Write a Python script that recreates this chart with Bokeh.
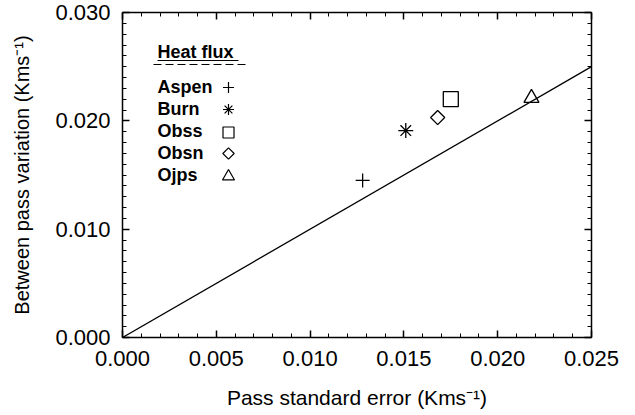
from bokeh.plotting import figure
from bokeh.models import (LinearAxis, SingleIntervalTicker, Range1d, ColumnDataSource,
                          NumeralTickFormatter, CustomJSTickFormatter)
from bokeh.core.properties import value
from bokeh.embed import file_html
from bokeh.resources import INLINE
import math

# ---- data ----
sites = ["Aspen", "Burn", "Obss", "Obsn", "Ojps"]
pass_standard_error = [0.0128, 0.0151, 0.0175, 0.0168, 0.0218]
between_pass_variation = [0.0145, 0.0191, 0.0220, 0.0203, 0.0221]
markers = ["cross", "asterisk", "square", "square", "triangle"]
marker_angles = [0, 0, 0, math.pi / 4, 0]
one_to_one_x = [0.0, 0.025]
one_to_one_y = [0.0, 0.025]
x_ticks_interval = 0.005
y_ticks_interval = 0.010
legend_title = "Heat flux"

# ---- layout ----
FONT = "Liberation Sans"
W, H = 635, 415
ML, MT = 122, 12
FW, FH = 469, 325
MR = W - ML - FW
MB = H - MT - FH
X0, X1 = 0.0, 0.025
Y0, Y1 = 0.0, 0.030

def px_x(px):
    return X0 + (px - ML) / FW * (X1 - X0)

def px_y(py):
    return Y0 + (MT + FH - py) / FH * (Y1 - Y0)

p = figure(frame_width=FW, frame_height=FH, output_backend="svg", toolbar_location=None,
           x_range=Range1d(X0, X1), y_range=Range1d(Y0, Y1),
           min_border_left=ML, min_border_top=MT, min_border_right=MR, min_border_bottom=MB,
           x_axis_label="Pass standard error (Kms\u207b\u00b9)",
           y_axis_label="Between pass variation (Kms\u207b\u00b9)")
p.background_fill_color = "white"
p.border_fill_color = "white"
p.outline_line_color = None
p.xgrid.visible = False
p.ygrid.visible = False

p.xaxis.ticker = SingleIntervalTicker(interval=x_ticks_interval, num_minor_ticks=5)
p.yaxis.ticker = SingleIntervalTicker(interval=y_ticks_interval, num_minor_ticks=10)
p.xaxis.formatter = NumeralTickFormatter(format="0.000")
p.yaxis.formatter = NumeralTickFormatter(format="0.000")

def style_axis(ax, labels=True):
    ax.axis_line_width = 1.5
    ax.axis_line_color = "black"
    ax.major_tick_in = 7
    ax.major_tick_out = 0
    ax.minor_tick_in = 4
    ax.minor_tick_out = 0
    ax.major_tick_line_width = 1.5
    ax.minor_tick_line_width = 1
    ax.major_tick_line_color = "black"
    ax.minor_tick_line_color = "black"
    if labels:
        ax.major_label_text_font = FONT
        ax.major_label_text_font_size = "22px"
        ax.major_label_text_color = "black"
        ax.axis_label_text_font = FONT
        ax.axis_label_text_font_style = "normal"
        ax.axis_label_text_color = "black"
    else:
        ax.formatter = CustomJSTickFormatter(code="return ''")
        ax.major_label_standoff = 0

style_axis(p.xaxis[0])
style_axis(p.yaxis[0])
p.xaxis.major_label_standoff = 13
p.xaxis.axis_label_text_font_size = "21px"
p.xaxis.axis_label_standoff = 17
p.yaxis.major_label_standoff = 12
p.yaxis.axis_label_text_font_size = "20px"
p.yaxis.axis_label_standoff = 19

top = LinearAxis(ticker=SingleIntervalTicker(interval=x_ticks_interval, num_minor_ticks=5))
right = LinearAxis(ticker=SingleIntervalTicker(interval=y_ticks_interval, num_minor_ticks=10))
style_axis(top, labels=False)
style_axis(right, labels=False)
p.add_layout(top, "above")
p.add_layout(right, "right")

# 1:1 line
p.line(one_to_one_x, one_to_one_y, line_color="black", line_width=1.3)

# points
src = ColumnDataSource(dict(x=pass_standard_error, y=between_pass_variation,
                            m=markers, a=marker_angles,
                            s=[14, 15, 15, 10, 15]))
p.scatter("x", "y", source=src, marker="m", angle="a", size="s",
          line_color="black", fill_color=None, line_width=1.3)

# legend (custom, drawn inside the plot)
lx_text = px_x(157)
lx_mark = px_x(228)
text_rows = [86, 108, 130, 152, 174]
mark_rows = [87, 109, 132, 153, 176]
p.text([px_x(157)], [px_y(51)], text=[legend_title], text_font=value(FONT),
       text_font_size="18px", text_font_style="bold", text_baseline="middle",
       text_color="black")
p.line([px_x(157), px_x(238)], [px_y(60), px_y(60)], line_color="black", line_width=1.2)
p.line([px_x(153), px_x(245)], [px_y(64), px_y(64)], line_color="black", line_width=1.2,
       line_dash="8 4")
p.text([lx_text] * len(sites), [px_y(b) for b in text_rows], text=sites,
       text_font=value(FONT), text_font_size="18px", text_font_style="bold",
       text_baseline="middle", text_color="black")
lsrc = ColumnDataSource(dict(x=[lx_mark] * len(sites), y=[px_y(b) for b in mark_rows],
                             m=markers, a=marker_angles, s=[11, 11, 11, 8, 12]))
p.scatter("x", "y", source=lsrc, marker="m", angle="a", size="s",
          line_color="black", fill_color=None, line_width=1.2)

open("out.html", "w").write(file_html(p, INLINE))
